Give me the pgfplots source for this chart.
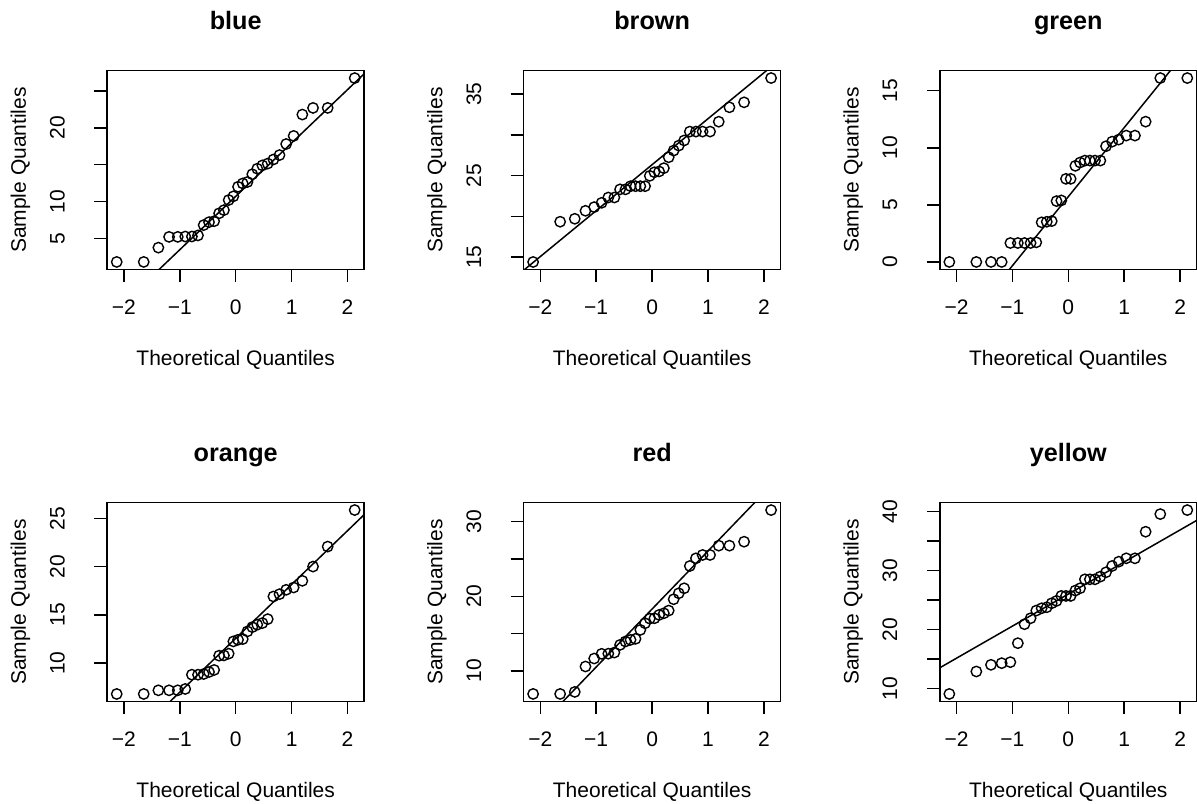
\documentclass[border=0pt]{standalone}
\usepackage{pgfplots}
\usepackage{pgfplotstable}
\pgfplotsset{compat=1.18}
\usepackage{fontspec}
\setmainfont{Liberation Sans}

\pgfplotstableread{
q blue brown green orange red yellow
-2.1280 1.80 14.39 0.00 6.79 6.90 9.10
-1.6449 1.80 19.33 0.00 6.79 6.90 12.91
-1.3830 3.74 19.69 0.00 7.17 7.17 14.04
-1.1918 5.20 20.67 0.00 7.17 10.58 14.32
-1.0364 5.20 21.12 1.66 7.17 11.65 14.49
-0.9027 5.25 21.65 1.66 7.31 12.28 17.71
-0.7835 5.25 22.30 1.66 8.79 12.30 20.93
-0.6745 5.40 22.30 1.66 8.79 12.45 21.94
-0.5730 6.80 23.30 1.72 8.86 13.48 23.24
-0.4770 7.20 23.30 3.47 9.07 13.93 23.63
-0.3853 7.33 23.69 3.52 9.28 14.15 23.80
-0.2967 8.40 23.69 3.58 10.76 14.29 24.48
-0.2104 8.83 23.69 5.33 10.79 15.49 24.88
-0.1257 10.20 23.69 5.39 10.97 16.38 25.72
-0.0418 10.70 24.96 7.28 12.24 17.00 25.72
0.0418 12.00 25.40 7.28 12.41 17.05 25.72
0.1257 12.45 25.50 8.42 12.48 17.50 26.63
0.2104 12.65 25.90 8.71 13.28 17.72 27.02
0.2967 13.70 27.24 8.88 13.72 18.08 28.54
0.3853 14.45 28.06 8.88 13.97 19.60 28.54
0.4770 14.90 28.67 8.88 14.14 20.40 28.54
0.5730 15.15 29.30 8.88 14.55 21.07 29.00
0.6745 15.70 30.39 10.14 16.90 24.06 29.73
0.7835 16.30 30.39 10.54 17.14 25.09 30.80
0.9027 17.80 30.39 10.72 17.59 25.54 31.53
1.0364 18.90 30.39 11.07 17.83 25.54 32.10
1.1918 21.80 31.60 11.07 18.52 26.79 32.10
1.3830 22.70 33.37 12.29 20.00 26.79 36.61
1.6449 22.70 33.98 16.11 22.07 27.32 39.60
2.1280 26.75 36.96 16.11 25.86 31.56 40.28
}\qqdata

\newcommand{\ry}[1]{\rotatebox{90}{#1}}

\pgfplotsset{
  qq/.style={
    scale only axis, width=128.5pt, height=99.3pt,
    anchor=north west,
    xmin=-2.2983, xmax=2.2983,
    xtick={-2,-1,0,1,2}, xticklabels={−2,−1,0,1,2},
    tick pos=left, tick align=outside,
    major tick length=6.5pt,
    every tick/.style={black, line width=0.75pt},
    axis line style={line width=0.75pt},
    /pgf/number format/assume math mode=true,
    tick label style={font=\fontsize{10.5}{12}\selectfont, inner sep=0pt},
    xticklabel style={anchor=base, yshift=-16pt},
    yticklabel style={anchor=east, xshift=-14.5pt},
    label style={font=\fontsize{10.5}{12}\selectfont, inner sep=0pt},
    xlabel={Theoretical Quantiles}, ylabel={Sample Quantiles},
    xlabel style={at={(axis description cs:0.5,-0.4819)}, anchor=base},
    ylabel style={at={(axis description cs:-0.3163,0.5)}, anchor=base},
    every axis title shift=0pt,
    title style={at={(axis description cs:0.5,1.2085)}, anchor=base, yshift=0pt, inner sep=0pt, font=\bfseries\fontsize{12.6}{14}\selectfont},
    clip mode=individual,
  },
  pts/.style={only marks, mark=o, mark size=2.6pt, black, mark options={line width=0.7pt}},
  ql/.style={black, line width=0.75pt, no marks},
}

\begin{document}
\begin{tikzpicture}
\useasboundingbox (0,0) rectangle (598.5pt,-401.5pt);

\begin{axis}[qq, at={(53.6pt,-35.35pt)}, title={blue},
  ymin=0.8, ymax=27.75, ytick={5,10,15,20,25}, yticklabels={\ry{5},\ry{10},,\ry{20},}]
\addplot[pts] table[x=q, y=blue] {\qqdata};
\addplot[ql] coordinates {(-2.3,-5.952) (2.3,27.352)};
\end{axis}

\begin{axis}[qq, at={(261.8pt,-35.35pt)}, title={brown},
  ymin=13.49, ymax=37.86, ytick={15,20,25,30,35}, yticklabels={\ry{15},,\ry{25},,\ry{35}}]
\addplot[pts] table[x=q, y=brown] {\qqdata};
\addplot[ql] coordinates {(-2.3,13.358) (2.3,39.302)};
\end{axis}

\begin{axis}[qq, at={(469.9pt,-35.35pt)}, title={green},
  ymin=-0.644, ymax=16.754, ytick={0,5,10,15}, yticklabels={\ry{0},\ry{5},\ry{10},\ry{15}}]
\addplot[pts] table[x=q, y=green] {\qqdata};
\addplot[ql] coordinates {(-2.3,-8.195) (2.3,19.635)};
\end{axis}

\begin{axis}[qq, at={(53.6pt,-251.35pt)}, title={orange},
  ymin=6.03, ymax=26.62, ytick={10,15,20,25}, yticklabels={\ry{10},\ry{15},\ry{20},\ry{25}}]
\addplot[pts] table[x=q, y=orange] {\qqdata};
\addplot[ql] coordinates {(-2.3,-0.274) (2.3,25.394)};
\end{axis}

\begin{axis}[qq, at={(261.8pt,-251.35pt)}, title={red},
  ymin=5.91, ymax=32.55, ytick={10,15,20,25,30}, yticklabels={\ry{10},,\ry{20},,\ry{30}}]
\addplot[pts] table[x=q, y=red] {\qqdata};
\addplot[ql] coordinates {(-2.3,0.396) (2.3,36.184)};
\end{axis}

\begin{axis}[qq, at={(469.9pt,-251.35pt)}, title={yellow},
  ymin=7.85, ymax=41.53, ytick={10,15,20,25,30,35,40}, yticklabels={\ry{10},,\ry{20},,\ry{30},,\ry{40}}]
\addplot[pts] table[x=q, y=yellow] {\qqdata};
\addplot[ql] coordinates {(-2.3,13.528) (2.3,38.552)};
\end{axis}
\end{tikzpicture}
\end{document}
